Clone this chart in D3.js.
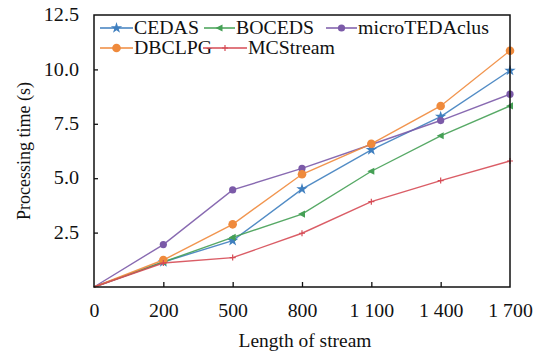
<!DOCTYPE html>
<html>
<head>
<meta charset="utf-8">
<script src="https://cdn.jsdelivr.net/npm/d3@7"></script>
<style>
  body { margin: 0; background: #fff; }
</style>
</head>
<body>
<div id="chart"></div>
<script>
// stream lengths (x categories)
let lengths = ["0", "200", "500", "800", "1 100", "1 400", "1 700"];

// processing time (s) per method
let cedas       = [0, 1.15, 2.13, 4.50, 6.30, 7.83, 9.95];
let boceds      = [0, 1.15, 2.28, 3.35, 5.32, 6.95, 8.32];
let microTEDA   = [0, 1.95, 4.46, 5.45, 6.55, 7.65, 8.86];
let dbclpg      = [0, 1.24, 2.88, 5.18, 6.58, 8.32, 10.86];
let mcstream    = [0, 1.10, 1.35, 2.47, 3.92, 4.89, 5.79];

let seriesNames = ["CEDAS", "BOCEDS", "microTEDAclus", "DBCLPG", "MCStream"];
let yTicks = [2.5, 5.0, 7.5, 10.0, 12.5];

let series = [
  {name: seriesNames[0], values: cedas,     color: "#3f7fbf", marker: "star"},
  {name: seriesNames[1], values: boceds,    color: "#45a055", marker: "tri"},
  {name: seriesNames[2], values: microTEDA, color: "#7b5aa8", marker: "dot"},
  {name: seriesNames[3], values: dbclpg,    color: "#ef8a3c", marker: "circle"},
  {name: seriesNames[4], values: mcstream,  color: "#d64b55", marker: "plus"}
];

let font = "'Liberation Serif', 'Times New Roman', 'DejaVu Serif', serif";

let width = 541, height = 352;
let margin = {top: 15, right: 31, bottom: 65, left: 94};
let w = width - margin.left - margin.right;
let h = height - margin.top - margin.bottom;

let svg = d3.select("#chart").append("svg")
  .attr("width", width)
  .attr("height", height)
  .style("font-family", font);

let g = svg.append("g")
  .attr("transform", "translate(" + margin.left + "," + margin.top + ")");

let x = d3.scalePoint().domain(lengths).range([0, w]);
let y = d3.scaleLinear().domain([0, 12.5]).range([h, 0]);

// text style + a small horizontal stretch (the source picture is a bit wide)
function styleText(sel, k) {
  sel.style("font-family", font).style("font-size", "18px").attr("fill", "#111");
  sel.each(function() {
    if (!k) return;
    let len = this.getComputedTextLength();
    d3.select(this).attr("textLength", len * k).attr("lengthAdjust", "spacingAndGlyphs");
  });
}

// marker shapes
function drawMarker(sel, type, color) {
  if (type === "star") {
    sel.append("path").attr("d", d3.symbol(d3.symbolStar, 40)()).attr("fill", color);
  } else if (type === "tri") {
    sel.append("path").attr("d", "M-4,0L3,-3.6L3,3.6Z").attr("fill", color);
  } else if (type === "dot") {
    sel.append("circle").attr("r", 3.6).attr("fill", color);
  } else if (type === "circle") {
    sel.append("circle").attr("r", 4.3).attr("fill", color);
  } else if (type === "plus") {
    sel.append("path").attr("d", "M-3,0H3M0,-3V3").attr("stroke", color).attr("stroke-width", 1.2);
  }
}

let line = d3.line()
  .x((d, i) => x(lengths[i]))
  .y(d => y(d));

series.forEach(s => {
  let sg = g.append("g");
  sg.append("path")
    .datum(s.values)
    .attr("fill", "none")
    .attr("stroke", s.color)
    .attr("stroke-width", 1.4)
    .attr("stroke-opacity", 0.9)
    .attr("d", line);
  s.values.forEach((v, i) => {
    if (i === 0) return;
    let m = sg.append("g").attr("transform", "translate(" + x(lengths[i]) + "," + y(v) + ")");
    drawMarker(m, s.marker, s.color);
  });
});

// axes
let yAxis = d3.axisLeft(y).tickValues(yTicks).tickSize(-4).tickPadding(15)
  .tickFormat(d3.format(".1f"));
let yg = g.append("g").call(yAxis).attr("font-family", null);
yg.select(".domain").remove();
yg.selectAll(".tick line").filter(d => d === 12.5).remove();
yg.selectAll("text").call(styleText, 1.12);

let xAxis = d3.axisBottom(x).tickSize(-5).tickPadding(17);
let xg = g.append("g").attr("transform", "translate(0," + h + ")").call(xAxis).attr("font-family", null);
xg.select(".domain").remove();
xg.selectAll(".tick line").filter(d => d === "0" || d === "1 700").remove();
xg.selectAll("text").call(styleText, 1.1);

g.selectAll(".tick line").attr("stroke", "#111").attr("stroke-width", 1.3);

// frame
g.append("rect")
  .attr("width", w).attr("height", h)
  .attr("fill", "none").attr("stroke", "#111").attr("stroke-width", 1.5);

// axis titles
svg.append("text")
  .attr("x", margin.left + w / 2 + 3).attr("y", 347)
  .attr("text-anchor", "middle")
  .text("Length of stream")
  .call(styleText, 1.08);

svg.append("text")
  .attr("transform", "translate(30," + (margin.top + h / 2) + ") rotate(-90)")
  .attr("text-anchor", "middle")
  .text("Processing time (s)")
  .call(styleText, 0);

// legend
let legendPos = [
  {x: 100, y: 28, len: 33},
  {x: 204, y: 28, len: 31},
  {x: 326, y: 28, len: 31},
  {x: 100, y: 48, len: 33},
  {x: 203, y: 48, len: 44}
];
series.forEach((s, i) => {
  let p = legendPos[i];
  let lg = svg.append("g").attr("transform", "translate(" + p.x + "," + p.y + ")");
  lg.append("line").attr("x1", 0).attr("x2", p.len)
    .attr("stroke", s.color).attr("stroke-width", 1.5);
  let m = lg.append("g").attr("transform", "translate(" + (p.len / 2) + ",0)");
  drawMarker(m, s.marker, s.color);
  lg.append("text").attr("x", p.len + 1).attr("y", 6)
    .text(s.name)
    .call(styleText, 1.1);
});
</script>
</body>
</html>
